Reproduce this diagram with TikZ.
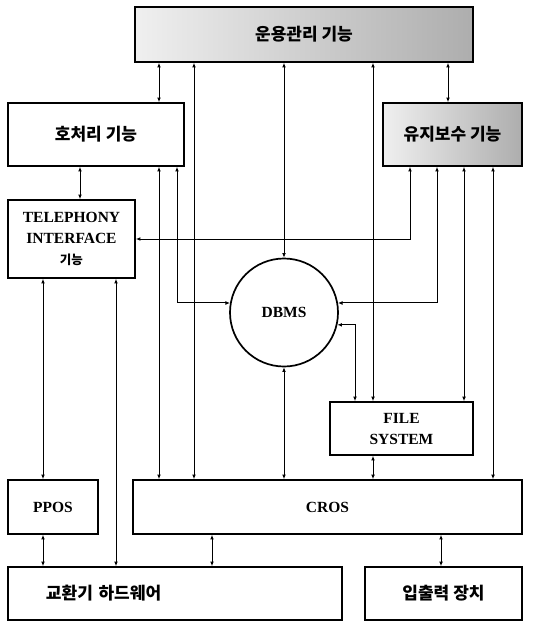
\documentclass[tikz,border=0pt]{standalone}
\usepackage{fontspec}
\setmainfont{Liberation Serif}
\newfontfamily\kr{Noto Sans CJK KR}
\usetikzlibrary{arrows.meta,positioning,calc}

\begin{document}
\begin{tikzpicture}[
  x=1pt,y=-1pt,
  >={Latex[length=4.5pt,width=3.8pt]},
  every node/.style={font=\fontsize{15.5}{21}\selectfont\bfseries,align=center},
  block/.style={draw,line width=1.7pt,inner sep=0pt},
  grainy/.style={block,left color=black!6,right color=black!32},
  store/.style={draw,circle,line width=1.7pt,inner sep=0pt,minimum size=108pt},
  hangul/.style={font=\kr\fontsize{17}{20}\selectfont\bfseries},
  link/.style={<->,line width=1pt}
]
\useasboundingbox (0,0) rectangle (542,622);

% functions
\node[grainy,hangul,minimum width=338pt,minimum height=55pt] (ops) at (304,34.5) {운용관리 기능};
\node[block,hangul,minimum width=176pt,minimum height=63pt] (call) at (96,134.5) {호처리 기능};
\node[grainy,hangul,minimum width=139pt,minimum height=63pt] (maint) at (452.5,134.5) {유지보수 기능};
\node[block,minimum width=127pt,minimum height=78pt] (tif) at (71.5,239)
  {TELEPHONY\\INTERFACE\\{\kr\fontsize{12.5}{14}\selectfont 기능}};

% data
\node[store] (dbms) at (284,312.5) {DBMS};
\node[block,minimum width=143pt,minimum height=53pt] (fs) at (401.5,428.5) {FILE\\SYSTEM};

% operating systems and hardware
\node[block,minimum width=90pt,minimum height=54pt] (ppos) at (53,507) {PPOS};
\node[block,minimum width=389pt,minimum height=54pt] (cros) at (327.5,507) {CROS};
\node[block,hangul,align=left,text width=334pt,minimum height=53pt] (hw) at (175,593.5)
  {\hspace*{38pt}교환기 하드웨어};
\node[block,hangul,minimum width=157pt,minimum height=53pt] (io) at (443.5,593.5) {입출력 장치};

\foreach \c in {43,80,116,159,177,194,212,355,373,410,437,441,448,464,493}
  \coordinate (c\c) at (\c,0);

\draw[link] (ops.south -| c159) -- (call.north -| c159);
\draw[link] (ops.south -| c194) -- (cros.north -| c194);
\draw[link] (ops.south -| dbms.north) -- (dbms.north);
\draw[link] (ops.south -| c373) -- (fs.north -| c373);
\draw[link] (ops.south -| c448) -- (maint.north -| c448);
\draw[link] (call.south -| c80) -- (tif.north -| c80);
\draw[link] (call.south -| c159) -- (cros.north -| c159);
\draw[link] (call.south -| c177) |- (dbms.170);
\draw[link] (maint.south -| c410) |- (tif.east);
\draw[link] (maint.south -| c437) |- (dbms.10);
\draw[link] (maint.south -| c464) -- (fs.north -| c464);
\draw[link] (maint.south -| c493) -- (cros.north -| c493);
\draw[link] (dbms.-13) -| (fs.north -| c355);
\draw[link] (dbms.south) -- (cros.north -| dbms.south);
\draw[link] (fs.south -| c373) -- (cros.north -| c373);
\draw[link] (tif.south -| c43) -- (ppos.north -| c43);
\draw[link] (tif.south -| c116) -- (hw.north -| c116);
\draw[link] (ppos.south -| c43) -- (hw.north -| c43);
\draw[link] (cros.south -| c212) -- (hw.north -| c212);
\draw[link] (cros.south -| c441) -- (io.north -| c441);
\end{tikzpicture}
\end{document}
